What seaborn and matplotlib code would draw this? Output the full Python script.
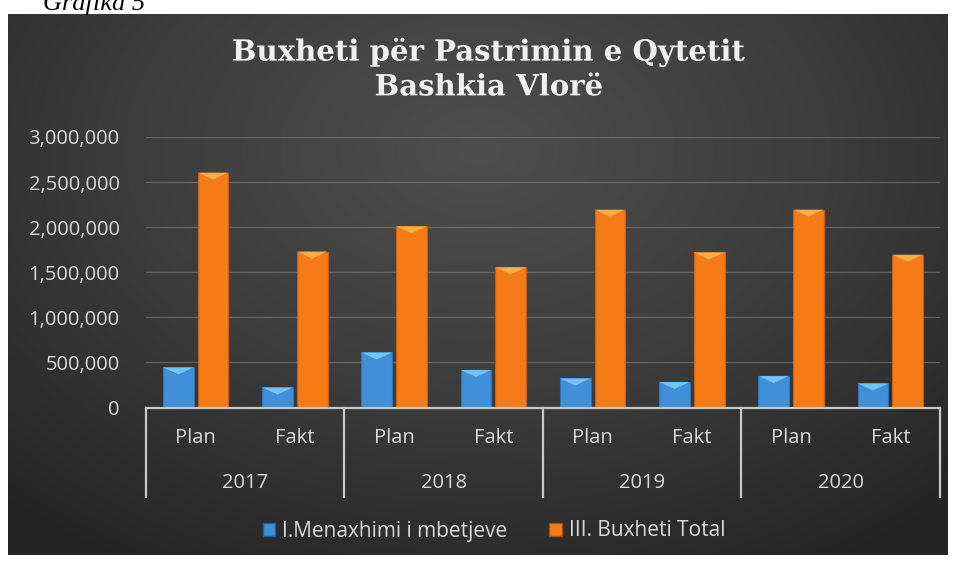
import numpy as np
import pandas as pd
import matplotlib
matplotlib.use('Agg')
import matplotlib.pyplot as plt
import matplotlib.patheffects as pe
from matplotlib.colors import LinearSegmentedColormap
from matplotlib.patches import Patch, Polygon
import seaborn as sns

# te dhenat (lexuar nga grafiku)
years = ['2017', '2018', '2019', '2020']
kinds = ['Plan', 'Fakt']
series_names = ['I.Menaxhimi i mbetjeve', 'III. Buxheti Total']
menaxhimi = [445000, 222000, 610000, 417000, 322000, 283000, 350000, 267000]
total = [2605000, 1730000, 2010000, 1555000, 2195000, 1720000, 2195000, 1695000]
y_ticks = [0, 500000, 1000000, 1500000, 2000000, 2500000, 3000000]

cats = [f'{y} {k}' for y in years for k in kinds]
df = pd.DataFrame({
    'kategoria': cats * 2,
    'vlera': menaxhimi + total,
    'seria': [series_names[0]] * len(cats) + [series_names[1]] * len(cats),
})

W, H = 954, 561
txt_col = '#d9d9d9'
blue = '#3f90d8'
orange = '#f47b16'
lab_font = 'Open Sans'
lab_size = 14.5

fig = plt.figure(figsize=(W / 100, H / 100), dpi=100)
fig.patch.set_facecolor('white')

# sfondi i erret me gradient
bg = fig.add_axes([8 / W, 6 / H, 940 / W, 541 / H])
gx, gy = np.meshgrid(np.linspace(0, 1, 400), np.linspace(0, 1, 240))
r = np.sqrt(((gx - 0.5) / 0.75) ** 2 + ((gy - 0.25) / 0.9) ** 2)
cmap_bg = LinearSegmentedColormap.from_list('bg', ['#4e4e4e', '#3c3c3c', '#242424'])
bg.imshow(np.clip(r, 0, 1), cmap=cmap_bg, aspect='auto', extent=[0, 1, 0, 1], origin='upper')
bg.set_axis_off()
bg.set_zorder(0)

ax = fig.add_axes([146 / W, (H - 407.5) / H, 794 / W, 270.5 / H])
ax.set_zorder(1)
ax.set_facecolor('none')

sns.barplot(data=df, x='kategoria', y='vlera', hue='seria', order=cats,
            palette=[blue, orange], width=0.7, gap=0.12, saturation=1,
            legend=False, ax=ax, zorder=3, edgecolor='none')

ax.set_ylim(0, 3000000)
ax.set_xlim(-0.5, len(cats) - 0.5)
ax.set_yticks(y_ticks)
ax.set_yticklabels([f'{v:,}' for v in y_ticks])
ax.set_xticks(range(len(cats)))
ax.set_xticklabels(kinds * len(years))
ax.set_xlabel('')
ax.set_ylabel('')
ax.tick_params(axis='y', length=0, pad=19, labelsize=lab_size, labelcolor=txt_col)
ax.tick_params(axis='x', length=0, pad=15, labelsize=lab_size, labelcolor=txt_col)
for lab in ax.get_xticklabels() + ax.get_yticklabels():
    lab.set_fontfamily(lab_font)

ax.grid(axis='y', color='#7a7a7a', linewidth=1, alpha=0.6, zorder=0)
ax.set_axisbelow(True)
for s in ['top', 'right', 'left']:
    ax.spines[s].set_visible(False)
ax.spines['bottom'].set_color('#c8c8c8')
ax.spines['bottom'].set_linewidth(1.6)
ax.spines['bottom'].set_zorder(4)

# efekt "bevel" ne krye te shtyllave
fig.canvas.draw()
inv = ax.transData.inverted()
for p in ax.patches:
    x0, w, h = p.get_x(), p.get_width(), p.get_height()
    if h <= 0:
        continue
    base = p.get_facecolor()
    light = tuple(min(1, c + 0.25) for c in base[:3])
    dark = tuple(c * 0.8 for c in base[:3])
    p.set_edgecolor(dark)
    p.set_linewidth(0.8)
    px, py = ax.transData.transform((x0, h))
    dy = h - inv.transform((px, py - 7))[1]
    ax.add_patch(Polygon([(x0, h), (x0 + w, h), (x0 + w * 0.5, h - dy)],
                         closed=True, facecolor=light, edgecolor='none',
                         alpha=0.8, zorder=4))

# etiketat e viteve dhe vijat ndarese
blend = ax.get_xaxis_transform()
for i, y in enumerate(years):
    ax.text(2 * i + 0.5, -0.279, y, transform=blend, ha='center', va='center',
            fontsize=lab_size, color=txt_col, fontfamily=lab_font)
for b in np.arange(-0.5, len(cats), 2):
    ax.plot([b, b], [0, -0.331], transform=blend, color='#c8c8c8',
            linewidth=1.6, clip_on=False, zorder=4)

# titulli
fig.text(489 / W, 1 - 69 / H, 'Buxheti për Pastrimin e Qytetit\nBashkia Vlorë',
         ha='center', va='center', fontsize=21, fontweight='bold',
         fontfamily='DejaVu Serif', color='#f0f0f0', linespacing=1.25,
         path_effects=[pe.withSimplePatchShadow(offset=(1.5, -1.5), alpha=0.5)])

fig.text(43 / W, 1 - 10 / H, 'Grafika 5', ha='left', va='baseline',
         fontsize=19, fontstyle='italic', fontfamily='Liberation Serif', color='black')

handles = [Patch(facecolor=blue, edgecolor='#1f5f9f'),
           Patch(facecolor=orange, edgecolor='#a84f0a')]
leg = fig.legend(handles, series_names, loc='center', bbox_to_anchor=(494 / W, 1 - 531 / H),
                 ncol=2, frameon=False, handlelength=0.6, handleheight=0.6,
                 handletextpad=0.35, columnspacing=2.0,
                 prop={'family': lab_font, 'size': 15})
for t in leg.get_texts():
    t.set_color(txt_col)

fig.savefig('out.png', dpi=100, facecolor='white')
